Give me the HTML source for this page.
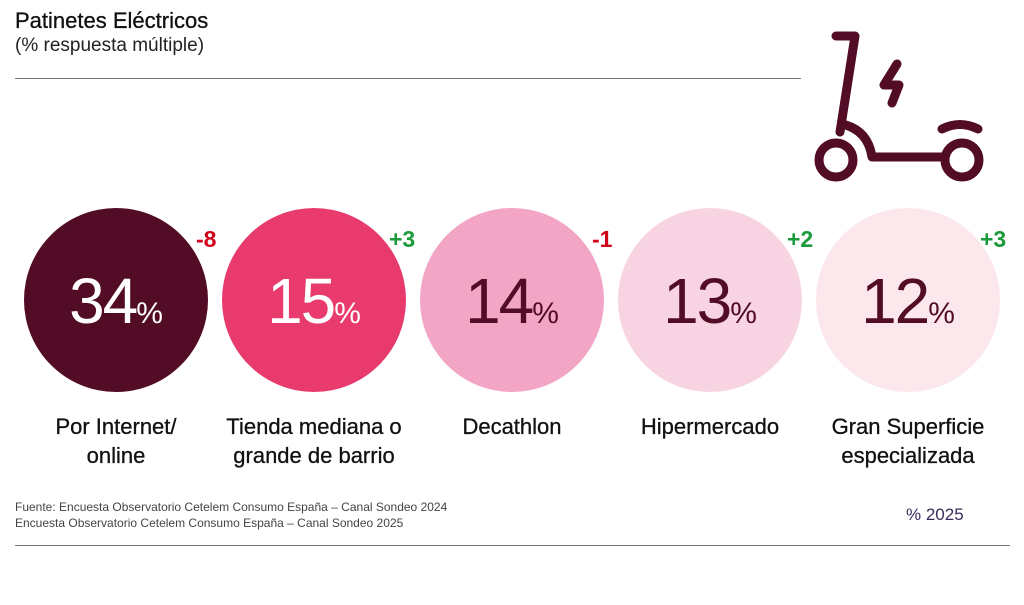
<!DOCTYPE html>
<html><head><meta charset="utf-8"><style>
body{margin:0;background:#fff;width:1024px;height:605px;position:relative;font-family:"Liberation Sans",sans-serif;overflow:hidden}
.t{position:absolute;white-space:nowrap}
.c{position:absolute;width:184px;height:184px;border-radius:50%;top:208px;text-align:center}
.n{position:absolute;left:0;right:0;top:58px;font-size:64px;font-weight:300;letter-spacing:-2px;line-height:70px}
.n small{font-size:30px;letter-spacing:0}
.d{position:absolute;top:226px;font-size:23px;font-weight:bold}
.l{position:absolute;top:412px;width:240px;text-align:center;font-size:22px;line-height:29px;color:#111;-webkit-text-stroke:0.3px #111}
</style></head><body>
<div class="t" style="left:15px;top:8px;font-size:22px;color:#111;-webkit-text-stroke:0.3px #111">Patinetes Eléctricos</div>
<div class="t" style="left:15px;top:35px;font-size:19px;color:#222">(% respuesta múltiple)</div>
<div style="position:absolute;left:15px;top:78px;width:786px;height:1px;background:#777"></div>
<svg style="position:absolute;left:0;top:0" width="1024" height="605">
<g fill="none" stroke="#520c26" stroke-width="9" stroke-linecap="round" stroke-linejoin="round">
<path d="M836 36 H855 L840 132"/>
<circle cx="836" cy="160" r="17"/>
<circle cx="962" cy="160" r="17"/>
<path d="M842 124 Q868 130 872 157 H944"/>
<path d="M942 129 Q960 120 978 129"/>
<path d="M897 64 L884 85 H899 L892 103"/>
</g></svg>
<div class="c" style="left:24px;background:#520c26;color:#fff"><div class="n">34<small>%</small></div></div>
<div class="c" style="left:222px;background:#e83a6c;color:#fff"><div class="n">15<small>%</small></div></div>
<div class="c" style="left:420px;background:#f2a5c5;color:#520c26"><div class="n">14<small>%</small></div></div>
<div class="c" style="left:618px;background:#f8d4e2;color:#520c26"><div class="n">13<small>%</small></div></div>
<div class="c" style="left:816px;background:#fce8ec;color:#520c26"><div class="n">12<small>%</small></div></div>
<div class="d" style="left:196px;color:#d0021b">-8</div>
<div class="d" style="left:389px;color:#1a9a3a">+3</div>
<div class="d" style="left:592px;color:#d0021b">-1</div>
<div class="d" style="left:787px;color:#1a9a3a">+2</div>
<div class="d" style="left:980px;color:#1a9a3a">+3</div>
<div class="l" style="left:-4px">Por Internet/<br>online</div>
<div class="l" style="left:194px">Tienda mediana o<br>grande de barrio</div>
<div class="l" style="left:392px">Decathlon</div>
<div class="l" style="left:590px">Hipermercado</div>
<div class="l" style="left:788px">Gran Superficie<br>especializada</div>
<div class="t" style="left:15px;top:499px;font-size:12px;color:#444;line-height:16px">Fuente: Encuesta Observatorio Cetelem Consumo España – Canal Sondeo 2024<br>Encuesta Observatorio Cetelem Consumo España – Canal Sondeo 2025</div>
<div class="t" style="left:906px;top:505px;font-size:17px;color:#3a2a5a">% 2025</div>
<div style="position:absolute;left:15px;top:545px;width:995px;height:1px;background:#777"></div>
</body></html>
